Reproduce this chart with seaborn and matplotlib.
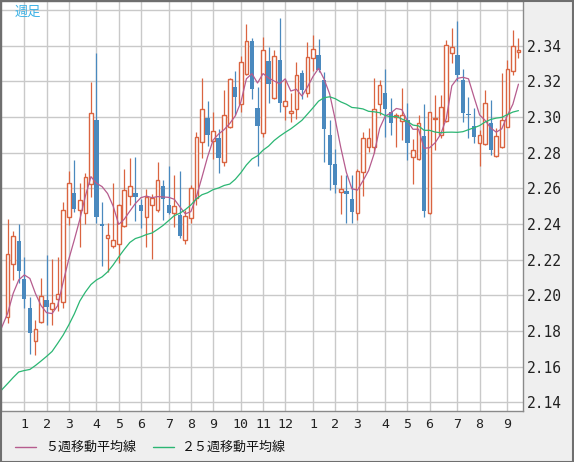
import numpy as np
import pandas as pd
import matplotlib
matplotlib.use("Agg")
import matplotlib.pyplot as plt
from matplotlib.lines import Line2D
from matplotlib.patches import Rectangle
import seaborn as sns

# ---------------- data (weekly OHLC) ----------------
opens = [2.1877, 2.2174, 2.2304, 2.2091, 2.1930, 2.1744, 2.1852, 2.1974, 2.1921, 2.1977,
         2.1961, 2.2437, 2.2572, 2.2478, 2.2463, 2.2624, 2.2983, 2.2401, 2.2323, 2.2278,
         2.2286, 2.2389, 2.2559, 2.2574, 2.2506, 2.2437, 2.2505, 2.2477, 2.2613, 2.2506,
         2.2460, 2.2450, 2.2310, 2.2432, 2.2544, 2.2858, 2.2996, 2.2867, 2.2880, 2.2746,
         2.2942, 2.3168, 2.3071, 2.3239, 2.3426, 2.3049, 2.2908, 2.3314, 2.3104, 2.3320,
         2.3060, 2.3024, 2.3043, 2.3247, 2.3132, 2.3331, 2.3348, 2.3207, 2.2899, 2.2735,
         2.2578, 2.2585, 2.2540, 2.2463, 2.2693, 2.2830, 2.2830, 2.3071, 2.3135, 2.3026,
         2.3000, 2.2975, 2.2983, 2.2773, 2.2763, 2.2893, 2.2460, 2.2986, 2.2897, 2.2979,
         2.3356, 2.3348, 2.3207, 2.3017, 2.2949, 2.2852, 2.2848, 2.2965, 2.2781, 2.2833,
         2.2946, 2.3258, 2.3362]
highs = [2.2428, 2.2361, 2.2401, 2.2215, 2.1990, 2.1861, 2.2097, 2.2226, 2.2203, 2.2216,
         2.2525, 2.2697, 2.2759, 2.2631, 2.2687, 2.3196, 2.3361, 2.2522, 2.2404, 2.2630,
         2.2512, 2.2707, 2.2772, 2.2777, 2.2540, 2.2594, 2.2570, 2.2746, 2.2647, 2.2723,
         2.2675, 2.2697, 2.2478, 2.2619, 2.2917, 2.3220, 2.3090, 2.3030, 2.2931, 2.3151,
         2.3219, 2.3258, 2.3344, 2.3521, 2.3441, 2.3166, 2.3447, 2.3394, 2.3376, 2.3555,
         2.3207, 2.3135, 2.3310, 2.3263, 2.3422, 2.3458, 2.3437, 2.3252, 2.2983, 2.2820,
         2.2675, 2.2675, 2.2675, 2.2708, 2.2914, 2.2940, 2.3217, 2.3207, 2.3269, 2.3105,
         2.3022, 2.3160, 2.3077, 2.2877, 2.3011, 2.3072, 2.3030, 2.3123, 2.3123, 2.3432,
         2.3497, 2.3540, 2.3269, 2.3112, 2.3050, 2.2927, 2.3151, 2.3095, 2.2938, 2.3249,
         2.3320, 2.3488, 2.3443]
lows = [2.1846, 2.2086, 2.2067, 2.1930, 2.1669, 2.1663, 2.1846, 2.1833, 2.1833, 2.1914,
        2.1929, 2.2396, 2.2469, 2.2272, 2.2398, 2.2553, 2.2404, 2.2164, 2.2132, 2.2265,
        2.2179, 2.2385, 2.2506, 2.2418, 2.2376, 2.2272, 2.2202, 2.2469, 2.2422, 2.2456,
        2.2385, 2.2323, 2.2288, 2.2404, 2.2506, 2.2768, 2.2839, 2.2764, 2.2687, 2.2727,
        2.2938, 2.3011, 2.3030, 2.3235, 2.3099, 2.2727, 2.2889, 2.3080, 2.3101, 2.3030,
        2.2983, 2.2972, 2.2987, 2.3099, 2.3110, 2.3258, 2.3252, 2.2749, 2.2590, 2.2572,
        2.2453, 2.2404, 2.2404, 2.2422, 2.2559, 2.2805, 2.2796, 2.3011, 2.2889, 2.2899,
        2.2833, 2.2871, 2.2759, 2.2624, 2.2759, 2.2441, 2.2454, 2.2815, 2.2882, 2.2974,
        2.3303, 2.3202, 2.2974, 2.2880, 2.2851, 2.2727, 2.2843, 2.2786, 2.2777, 2.2828,
        2.2942, 2.3233, 2.3331]
closes = [2.2230, 2.2332, 2.2138, 2.1981, 2.1790, 2.1809, 2.1996, 2.1936, 2.1955, 2.2009,
          2.2477, 2.2628, 2.2482, 2.2533, 2.2662, 2.3021, 2.2441, 2.2390, 2.2338, 2.2310,
          2.2506, 2.2590, 2.2613, 2.2553, 2.2474, 2.2551, 2.2544, 2.2645, 2.2542, 2.2463,
          2.2499, 2.2334, 2.2445, 2.2603, 2.2886, 2.3043, 2.2899, 2.2921, 2.2772, 2.3011,
          2.3213, 2.3112, 2.3307, 2.3426, 2.3155, 2.2951, 2.3376, 2.3185, 2.3339, 2.3080,
          2.3088, 2.3034, 2.3235, 2.3149, 2.3335, 2.3381, 2.3263, 2.2930, 2.2732, 2.2619,
          2.2597, 2.2569, 2.2467, 2.2697, 2.2880, 2.2880, 2.3043, 2.3178, 2.3043, 2.2965,
          2.3008, 2.3010, 2.2856, 2.2815, 2.2966, 2.2474, 2.3026, 2.2995, 2.3054, 2.3404,
          2.3394, 2.3235, 2.3024, 2.3012, 2.2889, 2.2899, 2.3077, 2.2815, 2.2893, 2.2983,
          2.3269, 2.3398, 2.3375]

# moving-average values for weeks before a full window exists
# (weeks -2 .. 3 for the 5-week line, weeks -2 .. 23 for the 25-week line)
ma5_head = [2.1749, 2.1825, 2.1899, 2.2011, 2.2086, 2.2114]
ma25_head = [2.1435, 2.1472, 2.1505, 2.1539, 2.1570, 2.1578, 2.1584, 2.1606, 2.1631,
             2.1657, 2.1685, 2.1730, 2.1777, 2.1833, 2.1895, 2.1968, 2.2018, 2.2060,
             2.2086, 2.2103, 2.2131, 2.2170, 2.2215, 2.2257, 2.2296, 2.2318]

month_labels = ["1", "2", "3", "4", "5", "6", "7", "8", "9", "10", "11", "12",
                "1", "2", "3", "4", "5", "6", "7", "8", "9"]
month_weeks = [3, 7, 11, 16, 20, 24, 29, 33, 37, 42, 46, 50, 55, 59, 63, 68, 72, 76, 81, 85, 90]
ytick_values = [2.14, 2.16, 2.18, 2.20, 2.22, 2.24, 2.26, 2.28, 2.30, 2.32, 2.34, 2.36]

title_text = "週足"
legend_labels = ["５週移動平均線", "２５週移動平均線"]

# ---------------- styling ----------------
sns.set_style("white")
plt.rcParams['font.family'] = ['Noto Sans CJK JP', 'DejaVu Sans']

UP = "#DA6440"
DOWN = "#4A89BE"
MA5_C = "#B65C8E"
MA25_C = "#2BB673"
GRID = "#C9C9C9"
BG = "#EFEFEF"

W, H = 574, 462
fig = plt.figure(figsize=(W / 100, H / 100), dpi=100, facecolor=BG)
ax = fig.add_axes([1 / W, 1 - 411 / H, 522 / W, 410 / H])
ax.set_facecolor("white")

n = len(closes)
weeks = np.arange(n)
df = pd.DataFrame({"week": weeks, "open": opens, "high": highs, "low": lows, "close": closes})
up = df["close"] >= df["open"]

# wicks
ax.vlines(df.loc[up, "week"], df.loc[up, "low"], df.loc[up, "high"], colors=UP, lw=0.9, zorder=2)
ax.vlines(df.loc[~up, "week"], df.loc[~up, "low"], df.loc[~up, "high"], colors=DOWN, lw=0.9, zorder=2)

# bodies
bw = 0.66
body_lo = np.minimum(df["open"], df["close"])
body_h = np.maximum((df["close"] - df["open"]).abs(), 0.0004)
ax.bar(df.loc[up, "week"], body_h[up], bottom=body_lo[up], width=bw,
       facecolor="white", edgecolor=UP, linewidth=1.0, zorder=3)
ax.bar(df.loc[~up, "week"], body_h[~up], bottom=body_lo[~up], width=bw + 0.12,
       facecolor=DOWN, edgecolor=DOWN, linewidth=0.0, zorder=3)

# moving averages
close_s = pd.Series(closes)
ma5_vals = list(ma5_head) + list(close_s.rolling(5).mean().iloc[4:].round(5))
ma25_vals = list(ma25_head) + list(close_s.rolling(25).mean().iloc[24:].round(5))
ma_df = pd.DataFrame({
    "week": np.concatenate([np.arange(-2, n), np.arange(-2, n)]),
    "value": ma5_vals + ma25_vals,
    "series": [legend_labels[0]] * len(ma5_vals) + [legend_labels[1]] * len(ma25_vals),
})
sns.lineplot(data=ma_df, x="week", y="value", hue="series",
             palette={legend_labels[0]: MA5_C, legend_labels[1]: MA25_C},
             linewidth=0.9, ax=ax, legend=False, zorder=4)

# axes limits & grid
ax.set_xlim(-1.2, 92.82)
ax.set_ylim(2.1351, 2.3650)
ax.set_xticks(month_weeks)
ax.set_xticklabels(month_labels, family="DejaVu Sans Mono", fontsize=9.5, color="#222222")
ax.set_yticks(ytick_values)
ax.set_yticklabels([f"{v:.2f}" if v < 2.355 else "" for v in ytick_values],
                   family="DejaVu Sans Mono", fontsize=10.5, color="#222222")
ax.yaxis.tick_right()
ax.tick_params(axis="both", length=0)
ax.tick_params(axis="x", pad=5)
ax.tick_params(axis="y", pad=3)
ax.grid(True, color=GRID, lw=1.0, zorder=0)
ax.set_axisbelow(True)
ax.set_xlabel("")
ax.set_ylabel("")
for s in ax.spines.values():
    s.set_color("#8A8A8A")
    s.set_linewidth(1.0)

# title
ax.text(14 / 522, 1 - 11 / 410, title_text, transform=ax.transAxes, fontsize=9.5,
        color="#3DB2E6", va="center", ha="left", zorder=6)

# legend (drawn manually in figure pixels)
ly = 1 - 447 / H
fig.add_artist(Line2D([15 / W, 36 / W], [ly, ly], color=MA5_C, lw=1.0))
fig.text(45 / W, ly, legend_labels[0], fontsize=9.4, va="center", ha="left", color="#111111")
fig.add_artist(Line2D([153 / W, 174 / W], [ly, ly], color=MA25_C, lw=1.0))
fig.text(182 / W, ly, legend_labels[1], fontsize=9.4, va="center", ha="left", color="#111111")

# outer frame
fig.add_artist(Rectangle((0.5 / W, 0.5 / H), 1 - 1.5 / W, 1 - 1.5 / H, transform=fig.transFigure,
                         fill=False, edgecolor="#6F6F6F", lw=1.5))

fig.savefig("out.png", dpi=100, facecolor=BG)
